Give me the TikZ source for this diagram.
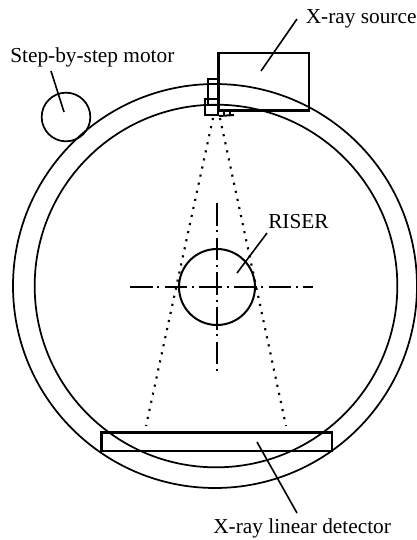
\documentclass[tikz,border=0pt]{standalone}
\usepackage{fontspec}
\setmainfont{Liberation Serif}
\tikzset{
  ring/.style={draw,circle,inner sep=0pt,line width=1.3pt},
  box/.style={draw,rectangle,inner sep=0pt,line width=2pt},
  leader/.style={line width=1.2pt},
  beam/.style={line width=1.6pt,dash pattern=on 1.6pt off 4.6pt},
  axis/.style={line width=1.5pt,dash pattern=on 17pt off 3.5pt on 1.5pt off 4pt},
  label/.style={inner sep=0pt,anchor=base west,font=\fontsize{16}{19}\selectfont}
}
\begin{document}
\begin{tikzpicture}[x=0.75pt,y=-0.75pt]
\useasboundingbox (0,0) rectangle (417,540);
% rings
\node[ring,minimum size=303pt] (outer) at (215,286) {};
\node[ring,minimum size=272pt] (inner) at (216,286) {};
\node[ring,minimum size=36.5pt] (motor) at (66,117) {};
\node[ring,minimum size=57pt,line width=1.5pt] (riser) at (217,287) {};
% source and detector
\node[box,minimum width=68pt,minimum height=43pt] (source) at (263.5,81.5) {};
\node[box,minimum width=173pt,minimum height=14pt] (detector) at (216.5,441.5) {};
% head under the source
\node[box,line width=1.5pt,minimum width=8pt,minimum height=20pt] (slit) at (213.5,92) {};
\node[box,line width=1.5pt,minimum width=10pt,minimum height=12pt] (head) at (211.5,107) {};
\coordinate (plater) at (234,115);
\draw[line width=1.5pt] (head.south east) -- (plater);
\draw[line width=1.5pt] (224,115) -- (224,110) (230,115) -- (230,110);
% beam
\coordinate (beamla) at (213,118);
\coordinate (beamlb) at (146,426);
\coordinate (beamra) at (220,118);
\coordinate (beamrb) at (286,426);
\draw[beam] (beamla) -- (beamlb);
\draw[beam] (beamra) -- (beamrb);
% axes
\coordinate (axisw) at (130,287);
\coordinate (axise) at (313,287);
\coordinate (axisn) at (217,203);
\coordinate (axiss) at (217,372);
\draw[axis] (axisw) -- (axise);
\draw[axis] (axisn) -- (axiss);
% labels
\node[label] (sourcelabel) at (305.5,23) {X-ray source};
\node[label] (motorlabel) at (10,62) {Step-by-step motor};
\node[label] (riserlabel) at (268,228) {RISER};
\node[label] (detectorlabel) at (213,533) {X-ray linear detector};
% leaders
\coordinate (sourcefoot) at (261,71);
\coordinate (sourcetop) at (297,19);
\coordinate (motorfoot) at (64,112);
\coordinate (motortop) at (51,71);
\coordinate (riserfoot) at (237,273);
\coordinate (risertop) at (267,233);
\coordinate (detectorfoot) at (257,442);
\coordinate (detectorend) at (297,513);
\draw[leader] (sourcetop) -- (sourcefoot);
\draw[leader] (motortop) -- (motorfoot);
\draw[leader] (risertop) -- (riserfoot);
\draw[leader] (detectorend) -- (detectorfoot);
\end{tikzpicture}
\end{document}
